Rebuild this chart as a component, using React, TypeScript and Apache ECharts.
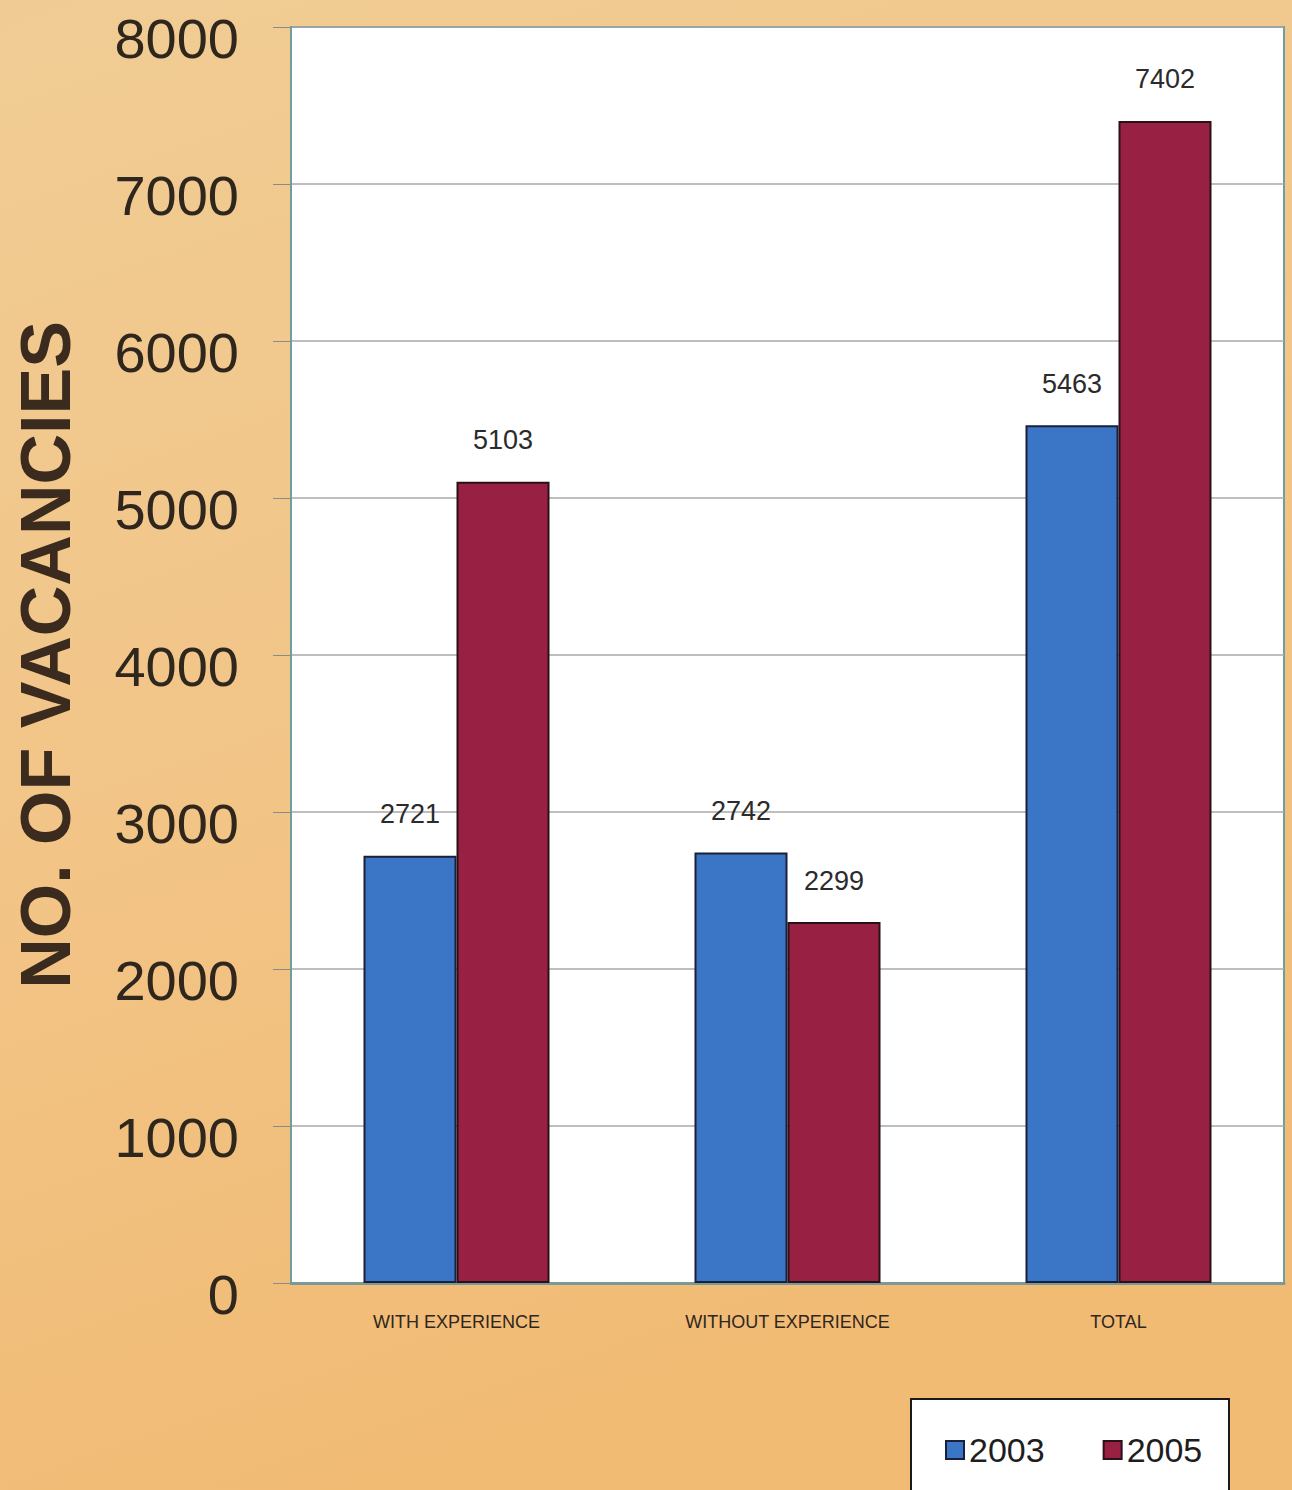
import React, { useEffect, useRef } from "react";
import * as echarts from "echarts";

const categories = ["WITH EXPERIENCE", "WITHOUT EXPERIENCE", "TOTAL"];
const series2003 = [2721, 2742, 5463];
const series2005 = [5103, 2299, 7402];
const yTicks = [0, 1000, 2000, 3000, 4000, 5000, 6000, 7000, 8000];
const legendNames = ["2003", "2005"];

const FONT = "'Liberation Sans', Arial, sans-serif";
const TEXT = "#2f261d";

export default function App() {
  const ref = useRef<HTMLDivElement>(null);
  useEffect(() => {
    if (!ref.current) return;
    const chart = echarts.init(ref.current, undefined, { renderer: "svg" });
    const barBase = {
      type: "bar" as const,
      barWidth: 93,
      barGap: "0%",
      label: {
        show: true,
        position: "top" as const,
        distance: 28,
        fontFamily: FONT,
        fontSize: 27,
        color: "#2b2b2b",
      },
    };
    chart.setOption({
      animation: false,
      backgroundColor: new echarts.graphic.LinearGradient(0, 0, 0.3, 1, [
        { offset: 0, color: "#f0cc94" },
        { offset: 0.5, color: "#f2c588" },
        { offset: 1, color: "#f1bb74" },
      ]),
      graphic: [
        {
          type: "rect",
          left: 910,
          top: 1398,
          shape: { width: 318, height: 100 },
          style: { fill: "#ffffff", stroke: "#1a1a1a", lineWidth: 2 },
          z: 0,
        },
      ],
      legend: {
        data: legendNames,
        left: 940,
        top: 1428,
        itemGap: 58,
        itemWidth: 18,
        itemHeight: 18,
        icon: "rect",
        textStyle: { fontFamily: FONT, fontSize: 34, color: "#1e1e1e" },
        z: 5,
      },
      grid: {
        left: 291,
        top: 27,
        width: 993,
        bottom: 207,
        outerBoundsMode: "none",
        containLabel: false,
        show: true,
        backgroundColor: "#ffffff",
        borderColor: "#6f9f9c",
        borderWidth: 2,
      },
      xAxis: {
        type: "category",
        data: categories,
        axisLine: { show: true, lineStyle: { color: "#7a9a98", width: 3 } },
        axisTick: { show: false },
        axisLabel: {
          margin: 30,
          fontFamily: FONT,
          fontSize: 18,
          color: TEXT,
        },
      },
      yAxis: {
        type: "value",
        min: yTicks[0],
        max: yTicks[yTicks.length - 1],
        interval: 1000,
        name: "NO. OF VACANCIES",
        nameLocation: "middle",
        nameGap: 210,
        nameTextStyle: {
          fontFamily: FONT,
          fontWeight: "bold",
          fontSize: 70,
          color: "#3a2b1e",
        },
        axisLine: { show: true, lineStyle: { color: "#6f9f9c", width: 2 } },
        axisTick: { show: true, inside: false, length: 18, lineStyle: { color: "#8a8a8a" } },
        splitLine: { show: true, lineStyle: { color: "#a8a8a8", width: 1.5 } },
        axisLabel: {
          margin: 52,
          fontFamily: FONT,
          fontSize: 56,
          color: TEXT,
          verticalAlign: "top",
          lineHeight: 22,
          formatter: (v: number) => String(v),
        },
      },
      series: [
        {
          ...barBase,
          name: legendNames[0],
          data: series2003,
          itemStyle: { color: "#3b76c6", borderColor: "#1c1f3a", borderWidth: 2 },
        },
        {
          ...barBase,
          name: legendNames[1],
          data: series2005,
          itemStyle: { color: "#982042", borderColor: "#2a1018", borderWidth: 2 },
        },
      ],
    });
    return () => chart.dispose();
  }, []);
  return (
    <div
      ref={ref}
      style={{ position: "absolute", left: 0, top: 0, width: 1292, height: 1490 }}
    />
  );
}
